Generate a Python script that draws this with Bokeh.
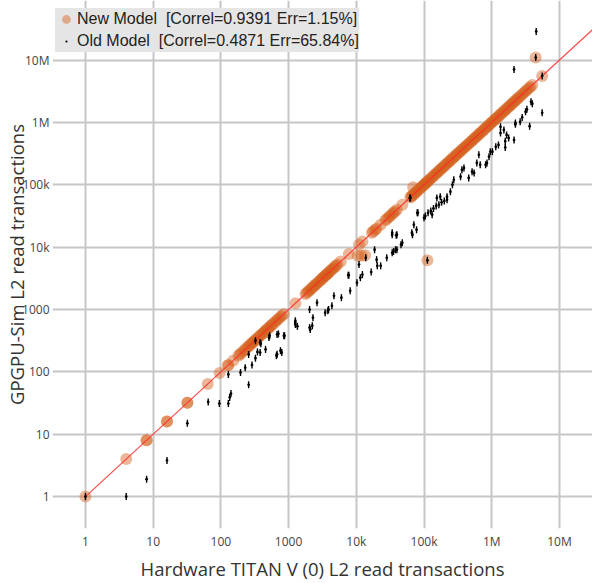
import math
from bokeh.plotting import figure
from bokeh.models import Range1d, FixedTicker, Legend, LegendItem, ColumnDataSource
from bokeh.embed import file_html
from bokeh.resources import INLINE

# ---------------- data ----------------
decade_ticks = [1, 10, 100, 1000, 10000, 100000, 1000000, 10000000]
tick_labels = ["1", "10", "100", "1000", "10k", "100k", "1M", "10M"]

new_x = [1, 4, 8, 16, 32, 64, 96, 128, 151, 182, 200, 229, 256, 282, 309, 339, 363, 398, 437, 479,
         525, 575, 646, 708, 759, 851, 1259, 1778, 1950, 2138, 2344, 2512, 2692, 2951, 3162, 3311,
         3548, 3802, 4169, 4571, 5012, 5248, 5888, 7762, 10965, 12303, 16982, 19055, 22909, 26915,
         30200, 33884, 39811, 47863, 63096, 67608, 74131, 79433, 85114, 93325, 100000, 107152,
         114815, 125893, 138038, 151356, 165959, 181970, 199526, 218776, 239883, 263027, 288403,
         316228, 346737, 380189, 416869, 457088, 501187, 549541, 602560, 660693, 724436, 794328,
         870964, 954993, 1047129, 1148154, 1258925, 1380384, 1513561, 1659587, 1819701, 1995262,
         2187762, 2398833, 2630268, 2951209, 3311311, 3715352, 3981072, 5559043,
         4466836, 112200, 69183, 10500, 12000, 13500,
         8, 16, 32, 128, 191, 219, 245, 269, 295, 324, 380, 417, 457, 501, 550, 603, 676, 794,
         1862, 2042, 2239, 2455, 2818, 3090, 3467, 3715, 3981, 4365, 4786,
         17783, 19953, 28184, 31623, 35481, 37154,
         64565, 70795, 77625, 89125, 97724, 104713, 112202, 120226, 131826, 144544, 158489,
         173780, 190546, 208930, 229087, 251189, 275423, 301995, 331131, 363078, 398107,
         436516, 478630, 524807, 575440, 630957, 691831, 758578, 831764, 912011, 1000000,
         1096478, 1202264, 1318257, 1445440, 1584893, 1737801, 1905461, 2089296, 2290868,
         2511886, 2818383, 3162278, 3548134]
new_y = [1, 4, 8, 16, 32, 64, 96, 128, 151, 182, 200, 229, 256, 282, 309, 339, 363, 398, 437, 479,
         525, 575, 646, 708, 759, 851, 1259, 1778, 1950, 2138, 2344, 2512, 2692, 2951, 3162, 3311,
         3548, 3802, 4169, 4571, 5012, 5248, 5888, 7762, 10965, 12303, 16982, 19055, 22909, 26915,
         30200, 33884, 39811, 47863, 63096, 67608, 74131, 79433, 85114, 93325, 100000, 107152,
         114815, 125893, 138038, 151356, 165959, 181970, 199526, 218776, 239883, 263027, 288403,
         316228, 346737, 380189, 416869, 457088, 501187, 549541, 602560, 660693, 724436, 794328,
         870964, 954993, 1047129, 1148154, 1258925, 1380384, 1513561, 1659587, 1819701, 1995262,
         2187762, 2398833, 2630268, 2951209, 3311311, 3715352, 3981072, 5559043,
         10964782, 6166, 91201, 7300, 7300, 7400,
         8, 16, 32, 128, 191, 219, 245, 269, 295, 324, 380, 417, 457, 501, 550, 603, 676, 794,
         1862, 2042, 2239, 2455, 2818, 3090, 3467, 3715, 3981, 4365, 4786,
         17783, 19953, 28184, 31623, 35481, 37154,
         64565, 70795, 77625, 89125, 97724, 104713, 112202, 120226, 131826, 144544, 158489,
         173780, 190546, 208930, 229087, 251189, 275423, 301995, 331131, 363078, 398107,
         436516, 478630, 524807, 575440, 630957, 691831, 758578, 831764, 912011, 1000000,
         1096478, 1202264, 1318257, 1445440, 1584893, 1737801, 1905461, 2089296, 2290868,
         2511886, 2818383, 3162278, 3548134]

old_x = [1, 4, 8, 16, 32, 65, 95, 129, 135, 141, 257, 195, 229, 288, 129, 257, 324, 347, 380, 457,
         389, 324, 525, 708, 871, 661, 794, 1259, 513, 676, 851, 1259, 2239, 2042, 2089, 2630, 3467,
         3890, 4365, 4677, 6026, 8128, 7586, 10233, 10965, 11482, 12303, 16596, 20417, 19953, 18621,
         28184, 33884, 38019, 45709, 33884, 38905, 67608, 77625, 100000, 81283, 61660, 104713,
         114815, 125893, 138038, 151356, 165959, 181970, 199526, 218776, 131826, 154882, 218776,
         245471, 263027, 346737, 363078, 457088, 549541, 676083, 645654, 851138, 954993, 1148154,
         1348963, 1584893, 1584893, 1659587, 1513561, 2137962, 2238721, 2818383, 3311311, 3801894,
         3981072, 3630781, 5559043, 2137962, 4539993, 4466836, 5559043, 112200,
         1259, 1349, 2291, 2042, 3802, 380, 676, 759, 63096, 79433, 70795, 66069, 33884, 39811,
         47863, 39811, 35481, 13804, 22909, 7762, 1348963, 1778279, 1258925, 1023293, 912011,
         812831, 602560, 512861, 389045, 275423, 173780, 2630268, 3162278, 2238721]
old_y = [1, 1, 1.9, 3.8, 15, 33, 31, 31, 39, 45, 62, 98, 117, 129, 91, 190, 166, 209, 204, 229,
         282, 316, 380, 407, 380, 182, 204, 575, 355, 398, 380, 617, 550, 1000, 479, 1288, 891,
         1000, 1148, 1660, 1549, 1995, 3548, 2692, 5248, 3236, 3631, 3981, 5012, 6310, 9120,
         6761, 8128, 9120, 10965, 15849, 15488, 15849, 19055, 29512, 35481, 61660, 31623,
         35481, 38019, 41687, 45709, 47863, 52481, 54954, 57544, 33113, 61660, 64565,
         77625, 100000, 134896, 173780, 128825, 154882, 208930, 301995, 223872, 338844, 407380,
         676083, 398107, 501187, 630957, 758578, 524807, 933254, 1202264, 1621810, 2137962,
         1995262, 870964, 1428894, 7079458, 28840315, 10964782, 5559043, 6166,
         660, 537, 741, 513, 955, 295, 191, 219, 61660, 35481, 22909, 16982, 16982, 15849,
         11749, 9120, 8511, 6761, 5012, 3548, 851138, 562341, 436516, 338844, 281838,
         208930, 223872, 162181, 186209, 120226, 64565, 1023293, 1479108, 977237]

identity_line = [1, 100000000]

legend_new = "New Model  [Correl=0.9391 Err=1.15%]"
legend_old = "Old Model  [Correl=0.4871 Err=65.84%]"
x_title = "Hardware TITAN V (0) L2 read transactions"
y_title = "GPGPU-Sim L2 read transactions"

# ---------------- figure ----------------
p = figure(width=592, height=583, x_axis_type="log", y_axis_type="log",
           x_range=Range1d(0.326, 3.08e7), y_range=Range1d(0.308, 9.02e7),
           output_backend="svg", toolbar_location=None,
           min_border_left=52, min_border_right=0, min_border_top=0, min_border_bottom=53)
p.outline_line_color = None
p.background_fill_color = "white"
p.border_fill_color = "white"

overrides = {t: l for t, l in zip(decade_ticks, tick_labels)}
for ax in (p.xaxis[0], p.yaxis[0]):
    ax.ticker = FixedTicker(ticks=decade_ticks, minor_ticks=[])
    ax.major_label_overrides = overrides
    ax.axis_line_color = None
    ax.major_tick_line_color = None
    ax.minor_tick_line_color = None
    ax.major_tick_out = 0
    ax.major_tick_in = 0
    ax.major_label_text_font = "Open Sans"
    ax.major_label_text_font_size = "12px"
    ax.major_label_text_color = "#444444"
    ax.axis_label_text_font = "Open Sans"
    ax.axis_label_text_font_size = "18.5px"
    ax.axis_label_text_font_style = "normal"
    ax.axis_label_text_color = "#333333"
p.xaxis[0].major_label_standoff = 4
p.yaxis[0].major_label_standoff = 3
p.xaxis[0].axis_label = x_title
p.yaxis[0].axis_label = y_title
p.xaxis[0].axis_label_standoff = 3
p.yaxis[0].axis_label_standoff = -10

for g in (p.xgrid[0], p.ygrid[0]):
    g.ticker = FixedTicker(ticks=decade_ticks, minor_ticks=[])
    g.grid_line_color = "#c6c6c6"
    g.grid_line_width = 2

src_new = ColumnDataSource(dict(x=new_x, y=new_y))
src_old = ColumnDataSource(dict(x=old_x, y=old_y))

r_new = p.scatter("x", "y", source=src_new, marker="circle", size=12,
                  fill_color="#d2601a", fill_alpha=0.45, line_color=None)
p.line(identity_line, identity_line, line_color="#ff2a2a", line_width=1.2, line_alpha=0.85)
p.scatter("x", "y", source=src_old, marker="dash", angle=math.pi / 2, size=7,
          line_color="black", line_width=1.4)
r_old = p.scatter("x", "y", source=src_old, marker="dot", size=11,
                  line_color="black", fill_color="black")

legend = Legend(items=[LegendItem(label=legend_new, renderers=[r_new]),
                       LegendItem(label=legend_old, renderers=[r_old])],
                location=(3, 476), orientation="vertical",
                glyph_width=22, glyph_height=22, label_height=22, label_standoff=0,
                padding=3, spacing=0, margin=0,
                border_line_color=None, background_fill_color="#e5e5e5",
                background_fill_alpha=1.0,
                label_text_font="Liberation Sans", label_text_font_size="16px",
                label_text_color="#222222")
p.add_layout(legend)

open("out.html", "w").write(file_html(p, INLINE))
